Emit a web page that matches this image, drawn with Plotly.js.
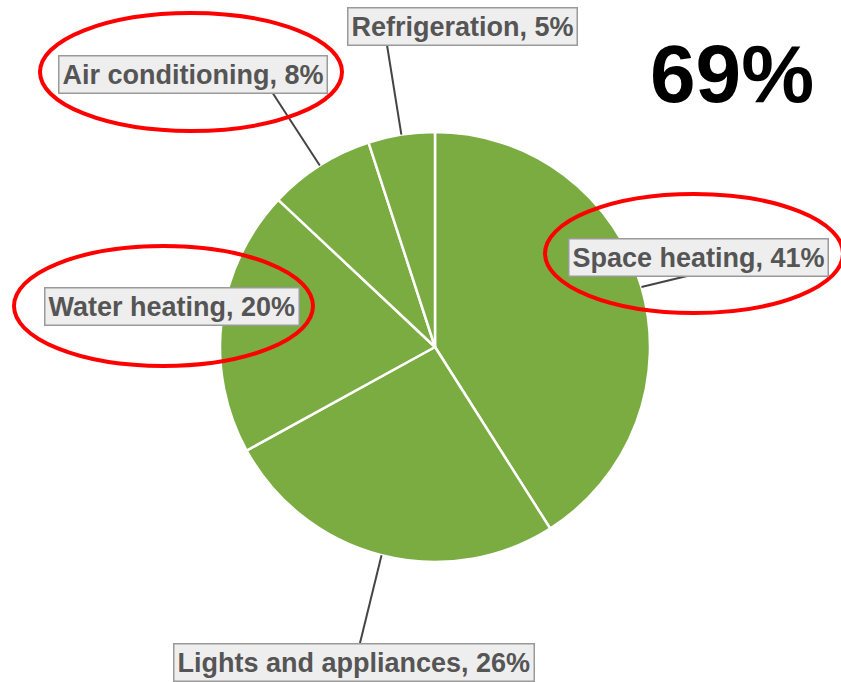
<!DOCTYPE html>
<html>
<head>
<meta charset="utf-8">
<script src="https://cdn.plot.ly/plotly-3.0.1.min.js"></script>
<style>html,body{margin:0;padding:0;background:#fff;}#chart{width:841px;height:682px;}</style>
</head>
<body>
<div id="chart"></div>
<script>
// ---- data ----
var categories = ['Space heating', 'Lights and appliances', 'Water heating', 'Air conditioning', 'Refrigeration'];
var shares = [41, 26, 20, 8, 5];
var highlightedShare = '69%';

// ---- layout helpers ----
var W = 841, H = 682;
var cx = 435, cy = 347, R = 215;
function px(x) { return x / W; }
function py(y) { return 1 - y / H; }

var total = shares.reduce(function (a, b) { return a + b; }, 0);
function midEdge(i) {
  var before = 0;
  for (var k = 0; k < i; k++) before += shares[k];
  var frac = (before + shares[i] / 2) / total;
  var a = frac * 2 * Math.PI;
  return [cx + R * Math.sin(a), cy - R * Math.cos(a)];
}

// label box centres and leader-line ends on the box (pixels)
var boxes = [
  {c: [698, 257], end: [687, 276]},
  {c: [354, 662], end: [360, 643]},
  {c: [172, 306], end: null},
  {c: [193, 74], end: [272, 92]},
  {c: [463, 27], end: [387, 45]}
];

var annotations = categories.map(function (name, i) {
  return {
    xref: 'paper', yref: 'paper',
    x: px(boxes[i].c[0]), y: py(boxes[i].c[1]),
    xanchor: 'center', yanchor: 'middle',
    text: '<b>' + name + ', ' + shares[i] + '%</b>',
    showarrow: false,
    font: {family: 'Liberation Sans, Arial, sans-serif', size: 27, color: '#555555'},
    bgcolor: '#eeeeee', bordercolor: '#9a9a9a', borderwidth: 1.5, borderpad: 3
  };
});
annotations.push({
  xref: 'paper', yref: 'paper', x: px(732), y: py(73),
  xanchor: 'center', yanchor: 'middle', showarrow: false,
  text: '<b>' + highlightedShare + '</b>',
  font: {family: 'Liberation Sans, Arial, sans-serif', size: 82, color: '#000000'}
});

var shapes = [];
categories.forEach(function (name, i) {
  if (!boxes[i].end) return;
  var p = midEdge(i);
  shapes.push({
    type: 'line', xref: 'paper', yref: 'paper', layer: 'above',
    x0: px(p[0]), y0: py(p[1]), x1: px(boxes[i].end[0]), y1: py(boxes[i].end[1]),
    line: {color: '#444444', width: 2}
  });
});
var ellipses = [[40, 13, 342, 131], [545, 194, 843, 313], [14, 246, 313, 366]];
ellipses.forEach(function (e) {
  shapes.push({
    type: 'circle', xref: 'paper', yref: 'paper', layer: 'above',
    x0: px(e[0]), y0: py(e[1]), x1: px(e[2]), y1: py(e[3]),
    line: {color: '#ff0000', width: 4}
  });
});

var trace = {
  type: 'pie',
  labels: categories,
  values: shares,
  sort: false,
  direction: 'clockwise',
  rotation: 0,
  textinfo: 'none',
  hoverinfo: 'label+percent',
  marker: {colors: categories.map(function () { return '#7aac42'; }), line: {color: '#ffffff', width: 2.5}},
  domain: {x: [px(cx - R), px(cx + R)], y: [py(cy + R), py(cy - R)]},
  showlegend: false
};

var layout = {
  width: W, height: H,
  margin: {l: 0, r: 0, t: 0, b: 0},
  paper_bgcolor: '#ffffff',
  showlegend: false,
  annotations: annotations,
  shapes: shapes
};

Plotly.newPlot('chart', [trace], layout, {displayModeBar: false, staticPlot: true});
</script>
</body>
</html>
